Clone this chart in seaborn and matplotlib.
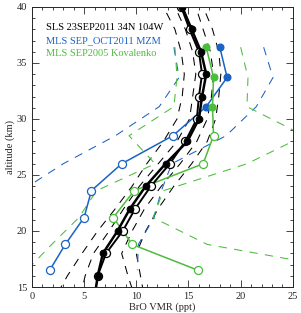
import numpy as np
import pandas as pd
import matplotlib
matplotlib.use("Agg")
import matplotlib.pyplot as plt
import seaborn as sns

# SLS balloon profile (filled = one retrieval, open = the other)
sls_alt_f = [42, 40, 38, 36, 34, 32, 30, 28, 26, 24, 22, 20, 18, 16, 14]
sls_bro_f = [13.6, 14.4, 15.3, 16.2, 16.7, 16.3, 16.0, 14.9, 12.8, 10.9, 9.4, 8.2, 6.8, 6.3, 6.0]
sls_alt_o = [42, 40, 38, 36, 34, 32, 30, 28, 26, 24, 22, 20, 18, 16]
sls_bro_o = [13.5, 14.3, 15.1, 16.0, 16.3, 16.0, 15.8, 14.7, 13.2, 11.4, 9.9, 8.7, 7.1, 6.3]

# SLS error envelopes
env_alt = [42, 40, 38, 36, 34, 32, 30, 28, 26, 24, 22, 20, 18, 16, 14]
env_lo_out = [11.5, 12.6, 13.7, 14.3, 14.6, 14.4, 13.9, 12.6, 11.0, 9.6, 8.0, 6.3, 4.8, 3.4, 2.2]
env_lo_in = [12.8, 13.7, 14.7, 15.4, 15.7, 15.4, 15.1, 13.9, 12.1, 10.3, 8.8, 7.4, 5.9, 5.1, 4.6]
env_hi_in = [14.9, 15.7, 16.4, 17.1, 17.4, 17.2, 16.8, 15.8, 14.2, 12.4, 10.8, 9.6, 8.6, 9.2, 9.9]
env_hi_out = [15.5, 16.4, 17.3, 17.9, 18.1, 17.9, 17.6, 16.8, 15.3, 13.6, 12.1, 10.9, 10.0, 10.4, 10.8]

# MLS SEP_OCT2011 MZM
mls_alt = [36.4, 33.7, 31.1, 28.5, 26.0, 23.6, 21.2, 18.8, 16.5]
mzm_bro = [18.0, 18.7, 16.7, 13.5, 8.6, 5.7, 5.0, 3.2, 1.7]
mzm_lo = [13.6, 14.1, 12.2, 8.0, 3.0, -1.0, -5.0, -9.0, -13.0]
mzm_hi = [22.2, 23.1, 21.5, 18.6, 13.4, 12.4, 11.7, 10.2, 10.1]

# MLS SEP2005 Kovalenko
kov_bro = [16.7, 17.4, 17.3, 17.4, 16.4, 9.8, 7.8, 9.6, 15.9]
kov_lo = [13.7, 13.9, 13.6, 9.3, 11.8, 6.2, 4.5, 1.9, -0.5]
kov_hi = [20.0, 20.7, 20.6, 26.1, 20.6, 12.6, 11.6, 16.8, 30.6]

n_filled = 3  # MLS levels drawn with filled markers

blue = "#1a62c4"
green = "#4cbc3c"
serif = ["Liberation Serif", "DejaVu Serif"]

sns.set_style("ticks")
plt.rcParams["font.family"] = serif
plt.rcParams["font.size"] = 7.5

fig = plt.figure(figsize=(3.01, 3.13), dpi=100)
ax = fig.add_axes([0.106, 0.083, 0.867, 0.895])

dash = dict(linestyle=(0, (8, 7)), linewidth=0.75)

# envelopes
for xs in [env_lo_out, env_lo_in, env_hi_in, env_hi_out]:
    sns.lineplot(x=xs, y=env_alt, sort=False, estimator=None, color="black", ax=ax, **dash)
for xs in [mzm_lo, mzm_hi]:
    sns.lineplot(x=xs, y=mls_alt, sort=False, estimator=None, color=blue, ax=ax, **dash)
for xs in [kov_lo, kov_hi]:
    sns.lineplot(x=xs, y=mls_alt, sort=False, estimator=None, color=green, ax=ax, **dash)

# MLS profiles
for xs, c in [(mzm_bro, blue), (kov_bro, green)]:
    sns.lineplot(x=xs, y=mls_alt, sort=False, estimator=None, color=c, lw=1.1, ax=ax)
    ax.plot(xs[:n_filled], mls_alt[:n_filled], "o", color=c, ms=4.8, ls="none")
    ax.plot(xs[n_filled:], mls_alt[n_filled:], "o", mfc="white", mec=c, mew=0.9, ms=5.8, ls="none")

# SLS profiles
sns.lineplot(x=sls_bro_o, y=sls_alt_o, sort=False, estimator=None, color="black", lw=1.4,
             marker="o", ms=5.8, mfc="white", mec="black", mew=0.9, ax=ax)
sns.lineplot(x=sls_bro_f, y=sls_alt_f, sort=False, estimator=None, color="black", lw=1.8,
             marker="o", ms=4.8, mfc="black", mec="black", ax=ax)

ax.set_xlim(0, 25)
ax.set_ylim(15, 40)
ax.set_xticks(np.arange(0, 26, 5))
ax.set_yticks(np.arange(15, 41, 5))
ax.set_xticks(np.arange(0, 26, 1), minor=True)
ax.set_yticks(np.arange(15, 41, 1), minor=True)
ax.tick_params(which="both", direction="in", top=True, right=True, width=0.6, labelsize=7.5)
ax.tick_params(which="major", length=5)
ax.tick_params(which="minor", length=2.5)
for s in ax.spines.values():
    s.set_linewidth(0.7)
ax.set_xlabel("BrO VMR (ppt)", fontsize=7.5, labelpad=1)
ax.set_ylabel("altitude (km)", fontsize=7.5, labelpad=1)

labels = ["SLS 23SEP2011 34N 104W", "MLS SEP_OCT2011 MZM", "MLS SEP2005 Kovalenko"]
for i, (txt, c) in enumerate(zip(labels, ["black", blue, green])):
    ax.text(0.055, 0.925 - i * 0.045, txt, color=c, fontsize=7.5, transform=ax.transAxes, va="center")

fig.savefig("out.png", dpi=100)
